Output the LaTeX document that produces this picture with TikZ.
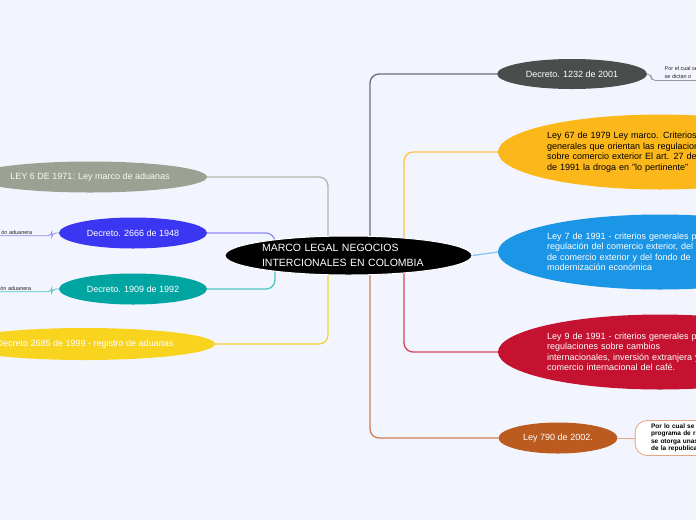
\documentclass[tikz,border=0pt]{standalone}
\usepackage{fontspec}
\setmainfont{Liberation Sans}
\usetikzlibrary{positioning, shapes.geometric, backgrounds}
\definecolor{mapbg}{HTML}{F3F5FE}
\definecolor{sage}{HTML}{9CA293}
\definecolor{sageline}{HTML}{B4B9AD}
\definecolor{violet}{HTML}{3B36F2}
\definecolor{violetline}{HTML}{8E8BF4}
\definecolor{teal}{HTML}{00A5A2}
\definecolor{tealline}{HTML}{4FC4C2}
\definecolor{lemon}{HTML}{F9D41E}
\definecolor{lemonline}{HTML}{F6D02E}
\definecolor{slate}{HTML}{494E4C}
\definecolor{slateline}{HTML}{6A6E74}
\definecolor{amber}{HTML}{FCB71B}
\definecolor{amberline}{HTML}{FCC547}
\definecolor{sky}{HTML}{1B95E6}
\definecolor{skyline}{HTML}{86C6F0}
\definecolor{crimson}{HTML}{C41230}
\definecolor{crimsonline}{HTML}{D5445C}
\definecolor{rust}{HTML}{BC5B20}
\definecolor{rustline}{HTML}{CF7C4E}
\definecolor{noteline}{HTML}{E5A584}

\begin{document}
\begin{tikzpicture}[x=1pt, y=-1pt,
    hub/.style={ellipse, fill=black, draw=white, line width=1pt, inner sep=0pt,
                minimum width=247pt, minimum height=39pt, align=left, text=white,
                text width=173pt, font=\fontsize{10.5}{15}\selectfont},
    topic/.style={ellipse, inner sep=0pt, minimum height=31pt, text=white,
                  font=\fontsize{9}{10.5}\selectfont},
    wide/.style={topic, minimum width=324pt, minimum height=75pt, align=left,
                 text width=226pt},
    leaf/.style={inner sep=1.5pt, align=left, text=black!85,
                 font=\fontsize{5.5}{8}\selectfont},
    note/.style={rectangle, rounded corners=12pt, draw=noteline, fill=white,
                 line width=0.8pt, align=left, inner xsep=16pt, inner ysep=3pt,
                 minimum height=35pt, text width=70pt,
                 font=\bfseries\fontsize{6.5}{7.5}\selectfont},
    branch/.style={line width=1.3pt, rounded corners=9pt},
    twig/.style={line width=0.8pt, rounded corners=4pt}
  ]
    \useasboundingbox (0,0) rectangle (696,520);

    % centre
    \node[hub] (hub) at (348.5,255.5) {MARCO LEGAL NEGOCIOS\\INTERCIONALES EN COLOMBIA};

    % left side
    \node[topic, fill=sage, minimum width=234pt, text=white!92!sage] (ley6) at (90,177) {LEY 6 DE 1971: Ley marco de aduanas};
    \node[topic, fill=violet, minimum width=148pt] (d2666) at (133,233) {Decreto. 2666 de 1948};
    \node[topic, fill=teal, minimum width=148pt] (d1909) at (133,289) {Decreto. 1909 de 1992};
    \node[topic, fill=lemon, minimum width=260pt, minimum height=32pt] (d2685) at (85,344) {Decreto 2685 de 1999 - registro de aduanas};

    \node[leaf, anchor=base east] (leaf2666) at (34,234) {ón aduanera};
    \node[leaf, anchor=base east] (leaf1909) at (33,290) {ón aduanera};

    % right side
    \node[topic, fill=slate, minimum width=150pt, minimum height=30pt] (d1232) at (572,74) {Decreto. 1232 de 2001};
    \node[wide, fill=amber, text=black] (ley67) at (660,152) {Ley 67 de 1979 Ley marco. Criterios\\generales que orientan las regulaciones\\sobre comercio exterior El art. 27 de la\\de 1991 la droga en "lo pertinente"};
    \node[wide, fill=sky] (ley7) at (660,252) {Ley 7 de 1991 - criterios generales para\\regulación del comercio exterior, del banco\\de comercio exterior y del fondo de\\modernización económica};
    \node[wide, fill=crimson] (ley9) at (660,352) {Ley 9 de 1991 - criterios generales para\\regulaciones sobre cambios\\internacionales, inversión extranjera y\\comercio internacional del café.};
    \node[topic, fill=rust, minimum width=119pt] (ley790) at (558,438) {Ley 790 de 2002.};

    \node[leaf, anchor=north west] (leaf1232) at (663,65) {Por el cual se\\se dictan o};
    \node[note, right=17pt of ley790] (note790) {Por lo cual se c\\programa de r\\se otorga unas\\de la republica};

    \begin{scope}[on background layer]
      \clip (0,0) rectangle (696,520);
      \fill[mapbg] (0,0) rectangle (696,520);
      % left branches
      \draw[branch, draw=sageline] ([xshift=-20.5pt]hub.center) |- (ley6.east);
      \draw[branch, draw=lemonline] ([xshift=-20.5pt]hub.center) |- (d2685.east);
      \draw[branch, draw=violetline] (d2666.east) -| ([xshift=-73.5pt]hub.center);
      \draw[branch, draw=tealline] (d1909.east) -| ([xshift=-73.5pt]hub.center);
      \draw[twig, draw=violetline] (d2666.west) -- ++(-7,0) |- ([xshift=-6pt]leaf2666.south west);
      \draw[twig, draw=tealline] (d1909.west) -- ++(-7,0) |- ([xshift=-6pt]leaf1909.south west);
      % right branches
      \draw[branch, draw=slateline] ([xshift=21.5pt]hub.center) |- (d1232.west);
      \draw[branch, draw=amberline] ([xshift=55.5pt]hub.center) |- (ley67.west);
      \draw[branch, draw=skyline] (hub.east) -- (ley7.west);
      \draw[branch, draw=crimsonline] ([xshift=55.5pt]hub.center) |- (ley9.west);
      \draw[branch, draw=rustline] ([xshift=21.5pt]hub.center) |- (ley790.west);
      \draw[twig, draw=slateline!70] (d1232.east) -- ++(4,0) |- (leaf1232.south east);
      \draw[twig, draw=noteline] (ley790.east) -- (note790.west);
    \end{scope}
  \end{tikzpicture}
\end{document}
